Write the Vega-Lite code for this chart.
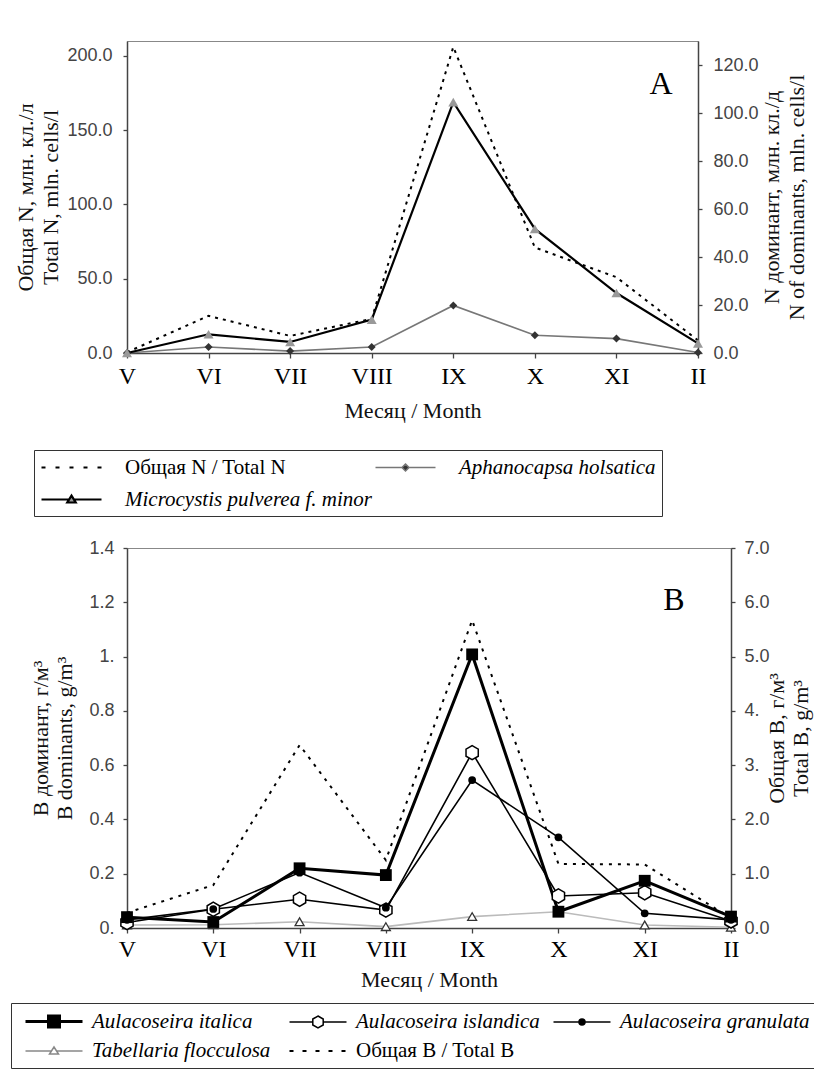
{
  "$schema": "https://vega.github.io/schema/vega-lite/v6.json",
  "padding": {"left": 10, "top": 40, "right": 0, "bottom": 0},
  "datasets": {
    "a": [
      {"month": "V", "series": "Общая N / Total N", "value": 0.5},
      {"month": "VI", "series": "Общая N / Total N", "value": 25},
      {"month": "VII", "series": "Общая N / Total N", "value": 11.5},
      {"month": "VIII", "series": "Общая N / Total N", "value": 23},
      {"month": "IX", "series": "Общая N / Total N", "value": 206},
      {"month": "X", "series": "Общая N / Total N", "value": 71},
      {"month": "XI", "series": "Общая N / Total N", "value": 51},
      {"month": "II", "series": "Общая N / Total N", "value": 8.5},
      {"month": "V", "series": "Microcystis pulverea f. minor", "value": 0},
      {"month": "VI", "series": "Microcystis pulverea f. minor", "value": 7.8},
      {"month": "VII", "series": "Microcystis pulverea f. minor", "value": 4.6},
      {"month": "VIII", "series": "Microcystis pulverea f. minor", "value": 13.9},
      {"month": "IX", "series": "Microcystis pulverea f. minor", "value": 104.5},
      {"month": "X", "series": "Microcystis pulverea f. minor", "value": 51.7},
      {"month": "XI", "series": "Microcystis pulverea f. minor", "value": 25},
      {"month": "II", "series": "Microcystis pulverea f. minor", "value": 4},
      {"month": "V", "series": "Aphanocapsa holsatica", "value": 0},
      {"month": "VI", "series": "Aphanocapsa holsatica", "value": 2.5},
      {"month": "VII", "series": "Aphanocapsa holsatica", "value": 0.8},
      {"month": "VIII", "series": "Aphanocapsa holsatica", "value": 2.5},
      {"month": "IX", "series": "Aphanocapsa holsatica", "value": 19.8},
      {"month": "X", "series": "Aphanocapsa holsatica", "value": 7.4},
      {"month": "XI", "series": "Aphanocapsa holsatica", "value": 6},
      {"month": "II", "series": "Aphanocapsa holsatica", "value": 0.2}
    ],
    "b": [
      {"month": "V", "series": "Aulacoseira italica", "value": 0.04},
      {"month": "VI", "series": "Aulacoseira italica", "value": 0.022},
      {"month": "VII", "series": "Aulacoseira italica", "value": 0.22},
      {"month": "VIII", "series": "Aulacoseira italica", "value": 0.195},
      {"month": "IX", "series": "Aulacoseira italica", "value": 1.008},
      {"month": "X", "series": "Aulacoseira italica", "value": 0.06},
      {"month": "XI", "series": "Aulacoseira italica", "value": 0.174},
      {"month": "II", "series": "Aulacoseira italica", "value": 0.042},
      {"month": "V", "series": "Aulacoseira islandica", "value": 0.02},
      {"month": "VI", "series": "Aulacoseira islandica", "value": 0.069},
      {"month": "VII", "series": "Aulacoseira islandica", "value": 0.106},
      {"month": "VIII", "series": "Aulacoseira islandica", "value": 0.066},
      {"month": "IX", "series": "Aulacoseira islandica", "value": 0.646},
      {"month": "X", "series": "Aulacoseira islandica", "value": 0.118},
      {"month": "XI", "series": "Aulacoseira islandica", "value": 0.13},
      {"month": "II", "series": "Aulacoseira islandica", "value": 0.026},
      {"month": "V", "series": "Aulacoseira granulata", "value": 0.03},
      {"month": "VI", "series": "Aulacoseira granulata", "value": 0.07},
      {"month": "VII", "series": "Aulacoseira granulata", "value": 0.204},
      {"month": "VIII", "series": "Aulacoseira granulata", "value": 0.075},
      {"month": "IX", "series": "Aulacoseira granulata", "value": 0.545},
      {"month": "X", "series": "Aulacoseira granulata", "value": 0.334},
      {"month": "XI", "series": "Aulacoseira granulata", "value": 0.054},
      {"month": "II", "series": "Aulacoseira granulata", "value": 0.03},
      {"month": "V", "series": "Tabellaria flocculosa", "value": 0.011},
      {"month": "VI", "series": "Tabellaria flocculosa", "value": 0.012},
      {"month": "VII", "series": "Tabellaria flocculosa", "value": 0.023},
      {"month": "VIII", "series": "Tabellaria flocculosa", "value": 0.005},
      {"month": "IX", "series": "Tabellaria flocculosa", "value": 0.042},
      {"month": "X", "series": "Tabellaria flocculosa", "value": 0.06},
      {"month": "XI", "series": "Tabellaria flocculosa", "value": 0.011},
      {"month": "II", "series": "Tabellaria flocculosa", "value": 0.003},
      {"month": "V", "series": "Общая B / Total B", "value": 0.28},
      {"month": "VI", "series": "Общая B / Total B", "value": 0.79},
      {"month": "VII", "series": "Общая B / Total B", "value": 3.37},
      {"month": "VIII", "series": "Общая B / Total B", "value": 1.25},
      {"month": "IX", "series": "Общая B / Total B", "value": 5.67},
      {"month": "X", "series": "Общая B / Total B", "value": 1.18},
      {"month": "XI", "series": "Общая B / Total B", "value": 1.17},
      {"month": "II", "series": "Общая B / Total B", "value": 0.18}
    ]
  },
  "spacing": 21,
  "vconcat": [
    {
      "width": 571,
      "height": 312,
      "data": {"name": "a"},
      "encoding": {
        "x": {
          "field": "month", "type": "ordinal",
          "scale": {"type": "point", "domain": ["V", "VI", "VII", "VIII", "IX", "X", "XI", "II"], "padding": 0},
          "axis": {"title": "Месяц / Month", "labelAngle": 0, "labelFont": "Liberation Serif", "labelFontSize": 24, "labelColor": "black", "labelPadding": 6, "tickSize": 5, "titleFontSize": 22, "titlePadding": 12,
            "encode": {"ticks": {"update": {"y": {"value": -5}, "y2": {"value": 5}}}}}
        }
      },
      "layer": [
        {
          "encoding": {
            "y": {"field": "value", "type": "quantitative", "scale": {"domain": [0, 210], "nice": false},
              "axis": {"orient": "left", "values": [0, 50, 100, 150, 200], "labelExpr": "format(datum.value, '.1f')",
                "title": ["Общая N, млн. кл./л", "Total N, mln. cells/l"], "titleFontSize": 22, "titleLineHeight": 25, "titlePadding": 4,
                "labelFontSize": 18, "labelPadding": 11, "tickSize": 4,
                "encode": {"ticks": {"update": {"x": {"value": 4}, "x2": {"value": -4}}}}}}
          },
          "layer": [
            {"transform": [{"filter": "datum.series === 'Общая N / Total N'"}],
             "mark": {"type": "line", "stroke": "black", "strokeWidth": 2, "strokeDash": [3, 5]}},
            {"transform": [{"filter": "false"}],
             "mark": {"type": "point", "size": 400},
             "encoding": {
               "shape": {"field": "series", "type": "nominal",
                 "scale": {"domain": ["Общая N / Total N", "Aphanocapsa holsatica", "Microcystis pulverea f. minor"],
                   "range": ["M-1,0H-0.6M0.4,0H0.8M1.8,0H2.2M3.2,0H3.6M4.6,0H5", "M-1,0H1.65M2.35,0H5M2,-0.35L2.35,0L2,0.35L1.65,0Z", "M-1,0H1.76M2.24,0H5M2,-0.38L2.42,0.3L1.58,0.3Z"]},
                 "legend": {"title": null, "orient": "none", "legendX": -93, "legendY": 409, "direction": "horizontal", "columns": 2, "gridAlign": "all", "columnPadding": 0, "rowPadding": 10, "padding": 6, "strokeColor": "#333", "fillColor": "white", "labelFont": "Liberation Serif", "labelFontSize": 21, "labelColor": "black", "labelLimit": 500, "labelOffset": 62, "symbolSize": 400, "symbolOpacity": 1,
                   "encode": {"labels": {"update": {"fontStyle": {"signal": "indexof(datum.label, 'Общая') === 0 ? 'normal' : 'italic'"}}}}}},
               "fill": {"field": "series", "type": "nominal",
                 "scale": {"domain": ["Общая N / Total N", "Aphanocapsa holsatica", "Microcystis pulverea f. minor"], "range": ["black", "#333", "#999"]},
                 "legend": {"title": null, "orient": "none", "legendX": -93, "legendY": 409, "direction": "horizontal", "columns": 2, "gridAlign": "all", "columnPadding": 0, "rowPadding": 10, "padding": 6, "strokeColor": "#333", "fillColor": "white", "labelFont": "Liberation Serif", "labelFontSize": 21, "labelColor": "black", "labelLimit": 500, "labelOffset": 62, "symbolSize": 400, "symbolOpacity": 1,
                   "encode": {"labels": {"update": {"fontStyle": {"signal": "indexof(datum.label, 'Общая') === 0 ? 'normal' : 'italic'"}}}}}},
               "stroke": {"field": "series", "type": "nominal",
                 "scale": {"domain": ["Общая N / Total N", "Aphanocapsa holsatica", "Microcystis pulverea f. minor"], "range": ["black", "#777", "black"]},
                 "legend": {"title": null, "orient": "none", "legendX": -93, "legendY": 409, "direction": "horizontal", "columns": 2, "gridAlign": "all", "columnPadding": 0, "rowPadding": 10, "padding": 6, "strokeColor": "#333", "fillColor": "white", "labelFont": "Liberation Serif", "labelFontSize": 21, "labelColor": "black", "labelLimit": 500, "labelOffset": 62, "symbolSize": 400, "symbolOpacity": 1,
                   "encode": {"labels": {"update": {"fontStyle": {"signal": "indexof(datum.label, 'Общая') === 0 ? 'normal' : 'italic'"}}}}}},
               "strokeWidth": {"field": "series", "type": "nominal",
                 "scale": {"type": "ordinal", "domain": ["Общая N / Total N", "Aphanocapsa holsatica", "Microcystis pulverea f. minor"], "range": [2, 1.5, 2.2]},
                 "legend": {"title": null, "orient": "none", "legendX": -93, "legendY": 409, "direction": "horizontal", "columns": 2, "gridAlign": "all", "columnPadding": 0, "rowPadding": 10, "padding": 6, "strokeColor": "#333", "fillColor": "white", "labelFont": "Liberation Serif", "labelFontSize": 21, "labelColor": "black", "labelLimit": 500, "labelOffset": 62, "symbolSize": 400, "symbolOpacity": 1,
                   "encode": {"labels": {"update": {"fontStyle": {"signal": "indexof(datum.label, 'Общая') === 0 ? 'normal' : 'italic'"}}}}}}
             }},
            {"data": {"values": [{"month": "II", "value": 181, "label": "A"}]},
             "mark": {"type": "text", "font": "Liberation Serif", "fontSize": 32, "align": "center", "baseline": "middle", "dx": -37, "color": "black"},
             "encoding": {"text": {"field": "label"}}}
          ]
        },
        {
          "encoding": {
            "y": {"field": "value", "type": "quantitative", "scale": {"domain": [0, 130], "nice": false},
              "axis": {"orient": "right", "values": [0, 20, 40, 60, 80, 100, 120], "labelExpr": "format(datum.value, '.1f')",
                "title": ["N доминант, млн. кл./д", "N of dominants, mln. cells/l"], "titleAngle": 270, "titleBaseline": "top", "titleFontSize": 22, "titleLineHeight": 25, "titlePadding": -22,
                "labelFontSize": 18, "labelPadding": 11, "tickSize": 4,
                "encode": {"ticks": {"update": {"x": {"value": -4}, "x2": {"value": 4}}}}}}
          },
          "layer": [
            {"transform": [{"filter": "datum.series === 'Aphanocapsa holsatica'"}],
             "mark": {"type": "line", "stroke": "#777", "strokeWidth": 1.6}},
            {"transform": [{"filter": "datum.series === 'Microcystis pulverea f. minor'"}],
             "mark": {"type": "line", "stroke": "black", "strokeWidth": 2.2}},
            {"transform": [{"filter": "datum.series === 'Aphanocapsa holsatica'"}],
             "mark": {"type": "point", "shape": "diamond", "size": 64, "filled": true, "fill": "#333", "opacity": 1}},
            {"transform": [{"filter": "datum.series === 'Microcystis pulverea f. minor'"}],
             "mark": {"type": "point", "shape": "triangle-up", "size": 100, "filled": true, "fill": "#999", "opacity": 1}}
          ]
        }
      ],
      "resolve": {"scale": {"y": "independent"}}
    },
    {
      "width": 604,
      "height": 380,
      "data": {"name": "b"},
      "encoding": {
        "x": {
          "field": "month", "type": "ordinal",
          "scale": {"type": "point", "domain": ["V", "VI", "VII", "VIII", "IX", "X", "XI", "II"], "padding": 0},
          "axis": {"title": "Месяц / Month", "labelAngle": 0, "labelFont": "Liberation Serif", "labelFontSize": 24, "labelColor": "black", "labelPadding": 4, "tickSize": 5, "titleFontSize": 22, "titlePadding": 8,
            "encode": {"ticks": {"update": {"y": {"value": -5}, "y2": {"value": 5}}}}}
        }
      },
      "layer": [
        {
          "encoding": {
            "y": {"field": "value", "type": "quantitative", "scale": {"domain": [0, 7], "nice": false},
              "axis": {"orient": "right", "values": [0, 1, 2, 3, 4, 5, 6, 7], "labelExpr": "datum.value == 3 ? '3.' : datum.value == 4 ? '4.' : format(datum.value, '.1f')",
                "title": ["Общая B, г/м³", "Total B, g/m³"], "titleAngle": 270, "titleBaseline": "top", "titleFontSize": 22, "titleLineHeight": 24, "titlePadding": -27,
                "labelFontSize": 18, "labelPadding": 9, "tickSize": 4,
                "encode": {"ticks": {"update": {"x": {"value": -4}, "x2": {"value": 4}}}}}}
          },
          "layer": [
            {"transform": [{"filter": "datum.series === 'Общая B / Total B'"}],
             "mark": {"type": "line", "stroke": "black", "strokeWidth": 2, "strokeDash": [3, 6]}}
          ]
        },
        {
          "encoding": {
            "y": {"field": "value", "type": "quantitative", "scale": {"domain": [0, 1.4], "nice": false},
              "axis": {"orient": "left", "values": [0, 0.2, 0.4, 0.6, 0.8, 1, 1.2, 1.4], "labelExpr": "datum.value == 0 ? '0.' : datum.value == 1 ? '1.' : format(datum.value, '.1f')",
                "title": ["В доминант, г/м³", "B dominants, g/m³"], "titleFontSize": 22, "titleLineHeight": 24, "titlePadding": 12,
                "labelFontSize": 18, "labelPadding": 9, "tickSize": 4,
                "encode": {"ticks": {"update": {"x": {"value": 4}, "x2": {"value": -4}}}}}}
          },
          "layer": [
            {"transform": [{"filter": "datum.series === 'Tabellaria flocculosa'"}],
             "mark": {"type": "line", "stroke": "#bbb", "strokeWidth": 1.6}},
            {"transform": [{"filter": "datum.series === 'Aulacoseira granulata'"}],
             "mark": {"type": "line", "stroke": "black", "strokeWidth": 1.6}},
            {"transform": [{"filter": "datum.series === 'Aulacoseira islandica'"}],
             "mark": {"type": "line", "stroke": "black", "strokeWidth": 1.6}},
            {"transform": [{"filter": "datum.series === 'Aulacoseira italica'"}],
             "mark": {"type": "line", "stroke": "black", "strokeWidth": 3}},
            {"transform": [{"filter": "datum.series === 'Tabellaria flocculosa'"}],
             "mark": {"type": "point", "shape": "triangle-up", "size": 80, "filled": true, "fill": "white", "stroke": "#333", "strokeWidth": 1.3, "opacity": 1}},
            {"transform": [{"filter": "datum.series === 'Aulacoseira islandica'"}],
             "mark": {"type": "point", "shape": "M0,-1L0.866,-0.5L0.866,0.5L0,1L-0.866,0.5L-0.866,-0.5Z", "size": 200, "filled": true, "fill": "white", "stroke": "black", "strokeWidth": 1.5, "opacity": 1}},
            {"transform": [{"filter": "datum.series === 'Aulacoseira italica'"}],
             "mark": {"type": "point", "shape": "square", "size": 140, "filled": true, "fill": "black", "opacity": 1}},
            {"transform": [{"filter": "datum.series === 'Aulacoseira granulata'"}],
             "mark": {"type": "point", "shape": "circle", "size": 60, "filled": true, "fill": "black", "opacity": 1}},
            {"transform": [{"filter": "false"}],
             "mark": {"type": "point", "size": 400},
             "encoding": {
               "shape": {"field": "series", "type": "nominal",
                 "scale": {"domain": ["Aulacoseira italica", "Aulacoseira islandica", "Aulacoseira granulata", "Tabellaria flocculosa", "Общая B / Total B"],
                   "range": ["M-0.4,0H1.9M3,0H5.3M1.9,-0.55H3V0.55H1.9Z", "M-0.4,0H1.93M2.97,0H5.3M2.45,-0.6L2.97,-0.3L2.97,0.3L2.45,0.6L1.93,0.3L1.93,-0.3Z", "M-0.4,0H2.15M2.75,0H5.3M2.75,0A0.3,0.3,0,1,1,2.15,0A0.3,0.3,0,1,1,2.75,0Z", "M-0.4,0H2.19M2.71,0H5.3M2.45,-0.4L2.9,0.3L2,0.3Z", "M-0.4,0H0M0.9,0H1.3M2.2,0H2.6M3.5,0H3.9M4.8,0H5.2"]},
                 "legend": {"title": null, "orient": "none", "legendX": -116, "legendY": 455, "direction": "horizontal", "columns": 3, "gridAlign": "all", "columnPadding": 0, "rowPadding": 7, "padding": 7, "strokeColor": "#333", "fillColor": "white", "labelFont": "Liberation Serif", "labelFontSize": 21, "labelColor": "black", "labelLimit": 500, "labelOffset": 51, "symbolSize": 400, "symbolOpacity": 1,
                   "encode": {"labels": {"update": {"fontStyle": {"signal": "indexof(datum.label, 'Общая') === 0 ? 'normal' : 'italic'"}}}}}},
               "fill": {"field": "series", "type": "nominal",
                 "scale": {"domain": ["Aulacoseira italica", "Aulacoseira islandica", "Aulacoseira granulata", "Tabellaria flocculosa", "Общая B / Total B"], "range": ["black", "white", "black", "white", "black"]},
                 "legend": {"title": null, "orient": "none", "legendX": -116, "legendY": 455, "direction": "horizontal", "columns": 3, "gridAlign": "all", "columnPadding": 0, "rowPadding": 7, "padding": 7, "strokeColor": "#333", "fillColor": "white", "labelFont": "Liberation Serif", "labelFontSize": 21, "labelColor": "black", "labelLimit": 500, "labelOffset": 51, "symbolSize": 400, "symbolOpacity": 1,
                   "encode": {"labels": {"update": {"fontStyle": {"signal": "indexof(datum.label, 'Общая') === 0 ? 'normal' : 'italic'"}}}}}},
               "stroke": {"field": "series", "type": "nominal",
                 "scale": {"domain": ["Aulacoseira italica", "Aulacoseira islandica", "Aulacoseira granulata", "Tabellaria flocculosa", "Общая B / Total B"], "range": ["black", "black", "black", "#888", "black"]},
                 "legend": {"title": null, "orient": "none", "legendX": -116, "legendY": 455, "direction": "horizontal", "columns": 3, "gridAlign": "all", "columnPadding": 0, "rowPadding": 7, "padding": 7, "strokeColor": "#333", "fillColor": "white", "labelFont": "Liberation Serif", "labelFontSize": 21, "labelColor": "black", "labelLimit": 500, "labelOffset": 51, "symbolSize": 400, "symbolOpacity": 1,
                   "encode": {"labels": {"update": {"fontStyle": {"signal": "indexof(datum.label, 'Общая') === 0 ? 'normal' : 'italic'"}}}}}},
               "strokeWidth": {"field": "series", "type": "nominal",
                 "scale": {"type": "ordinal", "domain": ["Aulacoseira italica", "Aulacoseira islandica", "Aulacoseira granulata", "Tabellaria flocculosa", "Общая B / Total B"], "range": [3, 1.5, 1.5, 1.5, 2]},
                 "legend": {"title": null, "orient": "none", "legendX": -116, "legendY": 455, "direction": "horizontal", "columns": 3, "gridAlign": "all", "columnPadding": 0, "rowPadding": 7, "padding": 7, "strokeColor": "#333", "fillColor": "white", "labelFont": "Liberation Serif", "labelFontSize": 21, "labelColor": "black", "labelLimit": 500, "labelOffset": 51, "symbolSize": 400, "symbolOpacity": 1,
                   "encode": {"labels": {"update": {"fontStyle": {"signal": "indexof(datum.label, 'Общая') === 0 ? 'normal' : 'italic'"}}}}}}
             }},
            {"data": {"values": [{"month": "II", "value": 1.21, "label": "B"}]},
             "mark": {"type": "text", "font": "Liberation Serif", "fontSize": 32, "align": "center", "baseline": "middle", "dx": -57, "color": "black"},
             "encoding": {"text": {"field": "label"}}}
          ]
        }
      ],
      "resolve": {"scale": {"y": "independent"}}
    }
  ],
  "resolve": {"scale": {"shape": "independent", "fill": "independent", "stroke": "independent", "strokeWidth": "independent"}, "legend": {"shape": "independent", "fill": "independent", "stroke": "independent", "strokeWidth": "independent"}},
  "config": {
    "font": "Liberation Serif",
    "view": {"stroke": "#888", "strokeWidth": 1},
    "axis": {"grid": false, "domainColor": "#444", "domainWidth": 1.5, "tickColor": "#444", "tickWidth": 1.3, "labelColor": "#444", "labelFont": "Liberation Sans", "titleFont": "Liberation Serif", "titleFontWeight": "normal", "titleColor": "#111"}
  }
}
